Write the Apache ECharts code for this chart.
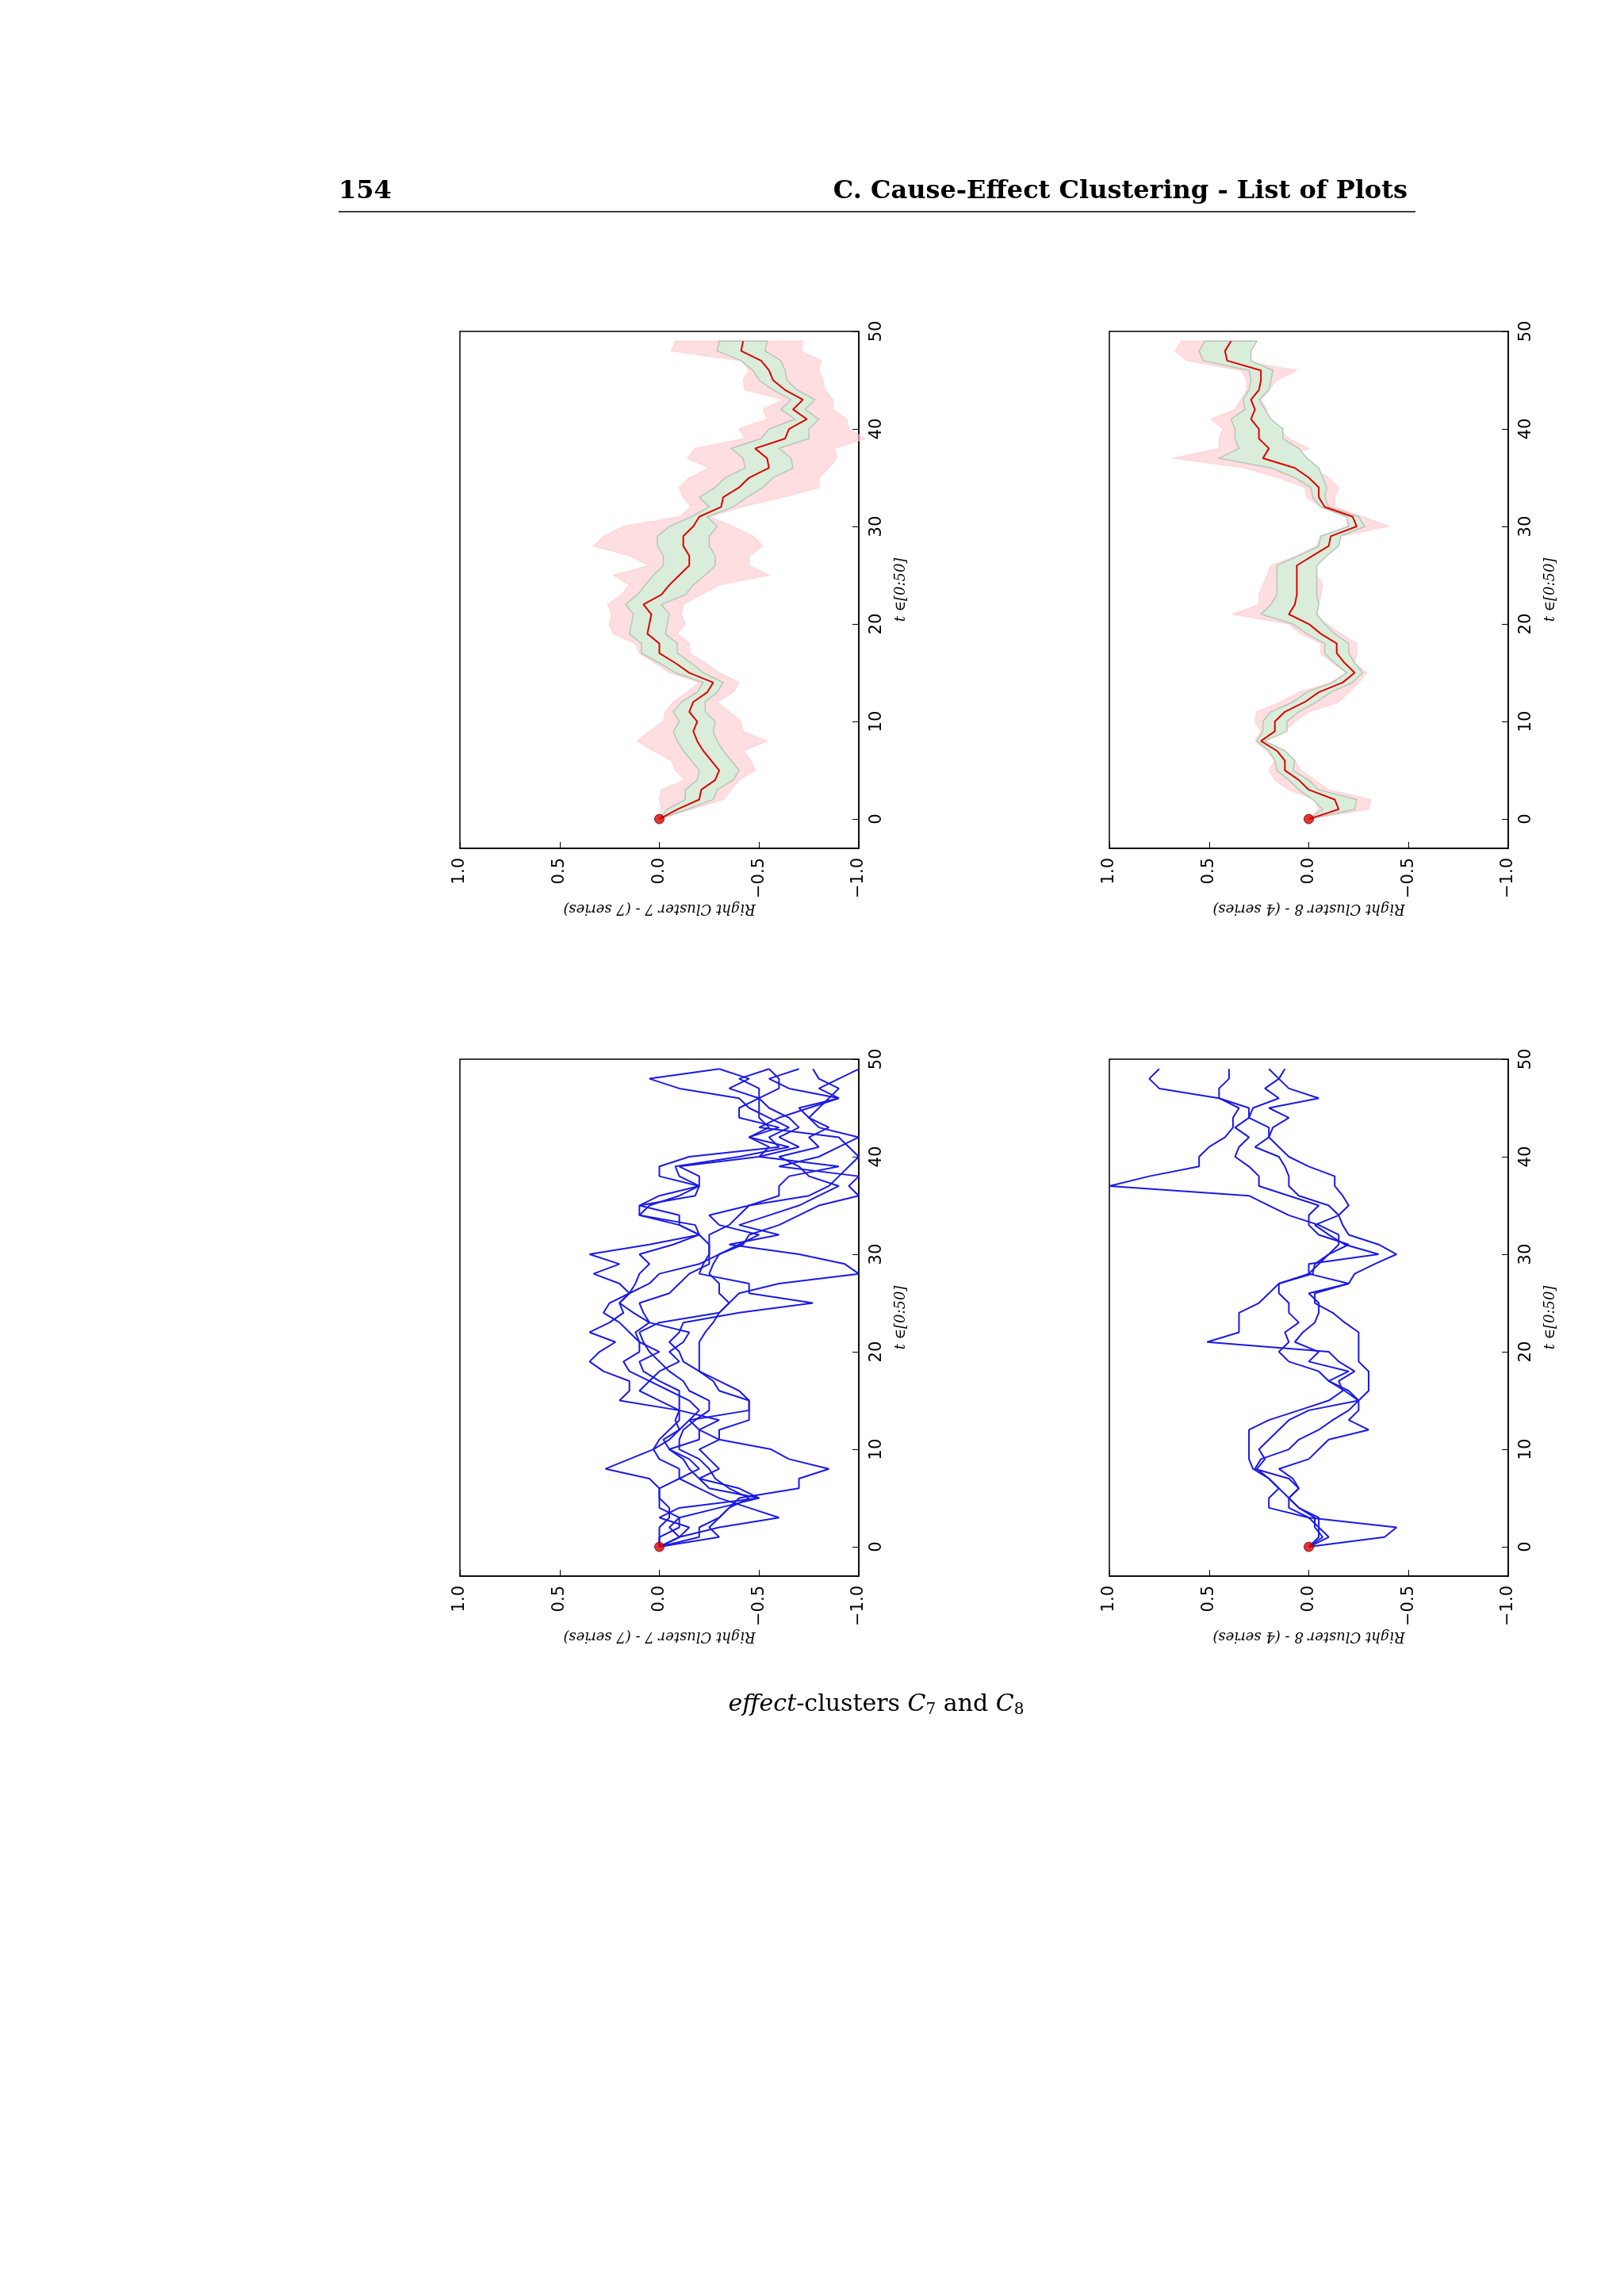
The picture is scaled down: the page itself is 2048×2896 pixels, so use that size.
<!DOCTYPE html>
<html>
<head>
<meta charset="utf-8">
<title>effect-clusters C7 and C8</title>
<script src="https://cdn.jsdelivr.net/npm/echarts@6/dist/echarts.min.js"></script>
<style>
  html, body { margin: 0; padding: 0; background: #fff; }
  #chart { width: 2048px; height: 2896px; }
</style>
</head>
<body>
<div id="chart"></div>
<script>
// time steps t = 0..49
var tSteps = [];
for (var i = 0; i < 50; i++) tSteps.push(i);
var tTicks = [0, 10, 20, 30, 40, 50];

// cluster 7 (top left): mean, inner half width, outer offsets
var c7Mean = [0, -0.09, -0.20, -0.21, -0.28, -0.30, -0.26, -0.22, -0.19, -0.17, -0.19, -0.15, -0.17, -0.24, -0.27, -0.15, -0.08, 0.0, 0.0, 0.06,
  0.05, 0.04, 0.08, -0.01, -0.05, -0.10, -0.15, -0.15, -0.12, -0.12, -0.17, -0.20, -0.31, -0.32, -0.40, -0.45, -0.55, -0.54, -0.48, -0.63,
  -0.65, -0.74, -0.67, -0.72, -0.63, -0.57, -0.55, -0.51, -0.41, -0.42];
var c7Inner = [0, .05, .07, .08, .09, .1, .1, .1, .1, .1, .09, .08, .06, .05, .05, .07, .08, .09, .09, .09,
  .09, .09, .09, .12, .12, .13, .13, .13, .13, .13, .12, .04, .06, .12, .12, .12, .12, .12, .12, .12,
  .1, .06, .06, .06, .06, .07, .08, .1, .12, .12];
var c7Up = [0, .08, .2, .2, .15, .22, .2, .25, .3, .22, .17, .12, .1, .1, .07, .1, .1, .1, .12, .17,
  .2, .2, .18, .2, .2, .33, .2, .3, .45, .4, .35, .1, .15, .2, .3, .3, .3, .4, .3, .2,
  .25, .2, .15, .1, .2, .15, .1, .1, .35, .34];
var c7Down = [0, .07, .12, .15, .12, .18, .2, .2, .35, .25, .22, .2, .12, .13, .13, .15, .15, .15, .15, .15,
  .18, .15, .2, .2, .25, .45, .3, .3, .4, .35, .2, .05, .1, .3, .4, .35, .3, .35, .4, .4,
  .3, .2, .2, .15, .2, .25, .25, .3, .3, .3];

// cluster 8 (top right)
var c8Mean = [0, -0.15, -0.13, 0.0, 0.05, 0.12, 0.12, 0.16, 0.24, 0.17, 0.17, 0.12, 0.02, -0.05, -0.17, -0.23, -0.18, -0.14, -0.14, -0.06,
  0.0, 0.10, 0.07, 0.06, 0.06, 0.06, 0.06, -0.02, -0.10, -0.11, -0.24, -0.22, -0.08, -0.05, -0.05, 0.0, 0.07, 0.23, 0.20, 0.25,
  0.25, 0.29, 0.27, 0.29, 0.25, 0.24, 0.24, 0.41, 0.42, 0.39];
var c8Inner = [0, .08, .11, .05, .05, .04, .05, .04, .02, .06, .06, .07, .06, .06, .05, .04, .05, .06, .06, .07,
  .08, .14, .12, .1, .1, .1, .1, .07, .05, .05, .04, .03, .02, .03, .04, .07, .12, .22, .15, .12,
  .12, .1, .05, .04, .05, .05, .06, .12, .13, .13];
var c8Up = [0, .1, .1, .1, .12, .08, .05, .05, .03, .07, .1, .14, .12, .1, .06, .04, .06, .08, .08, .1,
  .1, .28, .18, .19, .17, .15, .13, .08, .06, .05, .04, .03, .02, .06, .07, .15, .25, .45, .25, .2,
  .18, .2, .1, .05, .06, .07, .1, .2, .25, .25];
var c8Down = [0, .15, .18, .1, .08, .08, .05, .03, .01, .05, .1, .12, .17, .15, .08, .06, .05, .1, .1, .1,
  .09, .12, .12, .12, .13, .1, .08, .05, .04, .05, .16, .05, .05, .08, .1, .1, .08, .1, .2, .15,
  .1, .06, .06, .05, .05, .08, .18, .06, .05, .1];

// individual series, cluster 7 (bottom left)
var c7Series = [
  [0, -0.3, -0.25, -0.3, -0.35, -0.4, -0.7, -0.7, -0.85, -0.65, -0.56, -0.3, -0.3, -0.45, -0.45, -0.45, -0.4, -0.3, -0.2, -0.12,
   -0.1, -0.05, -0.1, -0.12, -0.4, -0.77, -0.45, -0.45, -0.2, -0.22, -0.25, -0.25, -0.25, -0.35, -0.4, -0.45, -0.6, -0.6, -0.65, -0.9,
   -0.5, -0.55, -0.45, -0.55, -0.5, -0.5, -0.5, -0.6, -0.6, -0.55],
  [0, 0, 0, -0.05, -0.05, 0, 0, 0.05, 0.27, 0.15, 0.03, 0, -0.05, -0.1, -0.1, 0.2, 0.15, 0.15, 0.28, 0.35,
   0.3, 0.22, 0.35, 0.25, 0.18, 0.2, 0.15, 0.2, 0.33, 0.2, 0.35, 0.05, -0.2, -0.1, -0.1, 0.1, 0, -0.2, -0.2, -0.1,
   -0.5, -0.7, -0.6, -0.7, -0.65, -0.55, -0.5, -0.5, -0.4, -0.55],
  [0, -0.1, -0.05, -0.1, -0.3, -0.5, -0.25, -0.2, -0.3, -0.25, -0.2, -0.3, -0.2, -0.15, -0.45, -0.45, -0.3, -0.27, -0.2, -0.2,
   -0.2, -0.2, -0.23, -0.27, -0.3, -0.35, -0.4, -0.6, -1.0, -0.93, -0.7, -0.35, -0.6, -0.4, -0.55, -0.7, -0.8, -0.9, -0.75, -0.7,
   -0.6, -0.8, -0.75, -0.85, -0.75, -0.7, -0.9, -0.8, -0.9, -1.0],
  [0, -0.1, -0.3, -0.6, -0.45, -0.3, -0.2, -0.1, -0.1, 0, 0.03, -0.05, -0.1, -0.08, -0.1, -0.1, -0.1, 0, 0.08, 0.1,
   0, 0.1, 0.12, 0.05, 0.13, 0.2, 0.15, 0.12, 0.1, 0.05, 0.1, -0.07, -0.2, -0.1, 0.1, 0.1, -0.18, -0.2, -0.1, -0.08,
   -0.4, -0.65, -0.45, -0.6, -0.4, -0.4, -0.5, -0.35, -0.45, -0.3],
  [0, -0.2, -0.2, -0.3, -0.35, -0.45, -0.35, -0.28, -0.25, -0.2, -0.1, -0.1, -0.12, -0.18, -0.25, -0.25, -0.15, -0.12, -0.05, 0,
   0.05, 0.08, 0.1, 0, -0.3, -0.35, -0.3, -0.3, -0.25, -0.27, -0.3, -0.42, -0.45, -0.6, -0.7, -0.8, -1.0, -0.95, -1.0, -0.6,
   -0.8, -0.9, -1.0, -0.8, -0.75, -0.8, -0.85, -0.9, -0.8, -0.77],
  [0, -0.1, -0.15, 0, -0.1, -0.5, -0.4, -0.2, -0.15, -0.12, -0.05, -0.02, -0.1, -0.15, -0.2, -0.15, -0.05, 0.05, 0.15, 0.18,
   0.1, 0.1, 0.15, 0.2, 0.28, 0.25, 0.15, 0.05, 0, -0.2, -0.3, -0.4, -0.5, -0.3, -0.25, -0.45, -0.75, -0.85, -0.9, -0.95,
   -1.0, -0.95, -0.9, -0.5, -0.6, -0.75, -0.9, -0.65, -0.55, -0.7],
  [0, 0, -0.1, -0.1, 0, 0, 0, -0.1, -0.2, -0.15, -0.05, -0.2, -0.2, -0.3, -0.1, 0, 0.1, 0.05, 0, -0.1,
   -0.05, -0.12, -0.15, 0.05, 0.08, 0.1, -0.05, -0.1, -0.15, -0.25, -0.25, -0.25, -0.2, -0.18, 0.1, 0.05, -0.1, -0.2, 0, 0,
   -0.15, -0.6, -0.55, -0.65, -0.55, -0.45, -0.4, -0.1, 0.05, -0.3]
];

// individual series, cluster 8 (bottom right)
var c8Series = [
  [0, -0.05, -0.05, 0, 0.1, 0.1, 0.15, 0.2, 0.28, 0.3, 0.3, 0.3, 0.3, 0.2, 0.05, -0.1, -0.17, -0.15, -0.23, -0.15,
   -0.1, 0.51, 0.35, 0.35, 0.35, 0.25, 0.2, 0.15, 0, -0.05, -0.1, -0.15, -0.15, -0.05, 0.1, 0.2, 0.3, 1.0, 0.8, 0.55,
   0.55, 0.5, 0.42, 0.38, 0.38, 0.35, 0.45, 0.75, 0.8, 0.75],
  [0, -0.38, -0.44, 0, 0.2, 0.2, 0.15, 0.2, 0.26, 0.22, 0.25, 0.2, 0.15, 0.1, 0, -0.25, -0.2, -0.1, -0.05, 0.1,
   0.15, 0.1, 0.12, 0.05, 0.1, 0.1, 0.15, 0.15, -0.02, -0.03, -0.1, -0.2, -0.05, 0, 0, -0.05, 0.1, 0.25, 0.25, 0.3,
   0.37, 0.35, 0.3, 0.37, 0.3, 0.3, 0.45, 0.45, 0.4, 0.4],
  [0, -0.1, -0.05, -0.05, 0.05, 0.1, 0.05, 0.08, 0.15, 0, -0.05, -0.1, -0.3, -0.2, -0.25, -0.25, -0.3, -0.3, -0.3, -0.25,
   -0.25, -0.25, -0.25, -0.18, -0.12, -0.03, -0.03, -0.2, -0.23, -0.33, -0.44, -0.35, -0.2, -0.17, -0.15, -0.2, -0.17, -0.13, -0.13, 0,
   0.1, 0.15, 0.2, 0.2, 0.3, 0.28, 0.15, 0.22, 0.15, 0.12],
  [0, -0.07, -0.03, -0.03, 0.05, 0.1, 0.05, 0.1, 0.27, 0.24, 0.1, 0.05, -0.05, -0.12, -0.2, -0.25, -0.18, -0.1, -0.2, 0,
   -0.05, 0.07, 0.03, -0.03, -0.05, -0.05, 0, -0.2, 0, 0, -0.35, -0.18, -0.1, -0.03, -0.15, -0.1, 0.05, 0.1, 0.1, 0.12,
   0.15, 0.27, 0.2, 0.18, 0.1, 0.2, -0.05, 0.1, 0.15, 0.2]
];

var valueTicks = [-1.0, -0.5, 0.0, 0.5, 1.0];

var panels = [
  { left: 580, top: 418, name: 'Right Cluster 7 - (7 series)' },
  { left: 1399, top: 418, name: 'Right Cluster 8 - (4 series)' },
  { left: 580, top: 1336, name: 'Right Cluster 7 - (7 series)' },
  { left: 1399, top: 1336, name: 'Right Cluster 8 - (4 series)' }
];
var plotW = 503, plotH = 652;

var grids = [], xAxes = [], yAxes = [], series = [];
panels.forEach(function (p, k) {
  grids.push({ left: p.left, top: p.top, width: plotW, height: plotH, show: true,
    borderColor: '#000', borderWidth: 1.5, backgroundColor: 'transparent' });
  xAxes.push({
    gridIndex: k, type: 'value', min: -1, max: 1, inverse: true, position: 'bottom',
    splitLine: { show: false },
    axisLine: { onZero: false, lineStyle: { color: '#000', width: 1.5 } },
    axisTick: { inside: true, length: 8, lineStyle: { color: '#000' }, customValues: valueTicks },
    axisLabel: { rotate: 90, color: '#000', fontSize: 21, fontFamily: 'DejaVu Sans', margin: 12,
      customValues: valueTicks, formatter: function (v) { return v.toFixed(1).replace('-', '\u2212'); } },
    name: p.name, nameLocation: 'middle', nameGap: 56, nameRotate: 180,
    nameTextStyle: { fontFamily: 'DejaVu Serif', fontStyle: 'italic', fontSize: 18, color: '#000' }
  });
  yAxes.push({
    gridIndex: k, type: 'value', min: -3, max: 50, position: 'right',
    splitLine: { show: false },
    axisLine: { onZero: false, lineStyle: { color: '#000', width: 1.5 } },
    axisTick: { inside: true, length: 8, lineStyle: { color: '#000' }, customValues: tTicks },
    axisLabel: { rotate: 90, color: '#000', fontSize: 21, fontFamily: 'DejaVu Sans', margin: 12, customValues: tTicks },
    name: 't \u2208[0:50]', nameLocation: 'middle', nameGap: 44, nameRotate: 90,
    nameTextStyle: { fontFamily: 'DejaVu Serif', fontStyle: 'italic', fontSize: 18, color: '#000' }
  });
});

function bandSeries(k, mean, lowOff, highOff, fill, stroke) {
  return {
    type: 'custom', xAxisIndex: k, yAxisIndex: k, data: [[0, 0]], silent: true, z: 1,
    renderItem: function (params, api) {
      var pts = [];
      for (var i = 0; i < mean.length; i++) pts.push(api.coord([mean[i] + highOff[i], tSteps[i]]));
      for (var j = mean.length - 1; j >= 0; j--) pts.push(api.coord([mean[j] - lowOff[j], tSteps[j]]));
      return { type: 'polygon', shape: { points: pts },
        style: { fill: fill, stroke: stroke, lineWidth: 1.5 } };
    }
  };
}
function lineSeries(k, vals, color, width, z) {
  return { type: 'line', xAxisIndex: k, yAxisIndex: k, z: z, showSymbol: false, silent: true,
    data: vals.map(function (v, i) { return [v, tSteps[i]]; }),
    lineStyle: { color: color, width: width } };
}
function startDot(k) {
  return { type: 'scatter', xAxisIndex: k, yAxisIndex: k, z: 10, symbolSize: 12, data: [[0, 0]],
    itemStyle: { color: '#e00000', borderColor: '#600', borderWidth: 1 } };
}

series.push(bandSeries(0, c7Mean, c7Down, c7Up, 'rgba(255,200,205,0.6)', 'rgba(255,200,205,0.6)'));
series.push(bandSeries(0, c7Mean, c7Inner, c7Inner, 'rgba(214,238,218,0.9)', '#b8c4b8'));
series.push(lineSeries(0, c7Mean, '#e00000', 2, 5));
series.push(startDot(0));
series.push(bandSeries(1, c8Mean, c8Down, c8Up, 'rgba(255,200,205,0.6)', 'rgba(255,200,205,0.6)'));
series.push(bandSeries(1, c8Mean, c8Inner, c8Inner, 'rgba(214,238,218,0.9)', '#b8c4b8'));
series.push(lineSeries(1, c8Mean, '#e00000', 2, 5));
series.push(startDot(1));
c7Series.forEach(function (s) { series.push(lineSeries(2, s, '#1a1ae6', 2, 3)); });
series.push(startDot(2));
c8Series.forEach(function (s) { series.push(lineSeries(3, s, '#1a1ae6', 2, 3)); });
series.push(startDot(3));

var chart = echarts.init(document.getElementById('chart'), null, { renderer: 'canvas' });
chart.setOption({
  animation: false,
  backgroundColor: '#fff',
  grid: grids, xAxis: xAxes, yAxis: yAxes, series: series,
  graphic: [
    { type: 'text', left: 427, top: 226, style: { text: '154', font: 'bold 32px "DejaVu Serif"', fill: '#000' } },
    { type: 'text', right: 2048 - 1775, top: 226, style: { text: 'C. Cause-Effect Clustering - List of Plots', font: 'bold 32px "DejaVu Serif"', fill: '#000' } },
    { type: 'line', shape: { x1: 427, y1: 267, x2: 1785, y2: 267 }, style: { stroke: '#000', lineWidth: 1.5 } },
    { type: 'text', x: 1105, y: 2150, style: { text: '{i|effect}-clusters {i|C}{s|7} and {i|C}{s|8}', textAlign: 'center', textVerticalAlign: 'middle',
      font: '30px "DejaVu Serif"', fill: '#000', rich: {
        i: { fontStyle: 'italic', fontSize: 30, fontFamily: 'DejaVu Serif' },
        s: { fontSize: 20, fontFamily: 'DejaVu Serif', verticalAlign: 'bottom', padding: [14, 0, 0, 0] } } } }
  ]
});
</script>
</body>
</html>
